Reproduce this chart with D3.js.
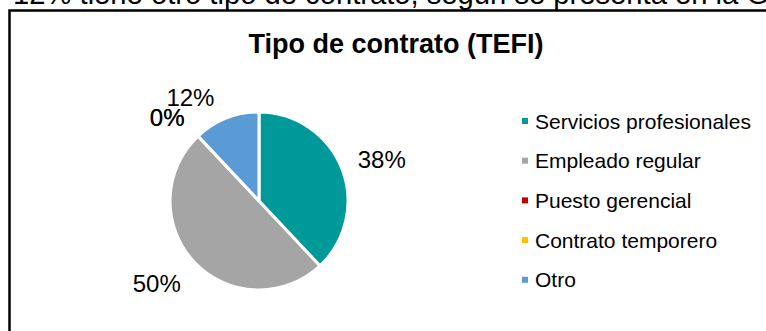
<!DOCTYPE html>
<html>
<head>
<meta charset="utf-8">
<script src="https://cdn.jsdelivr.net/npm/d3@7"></script>
<style>
  html, body { margin: 0; padding: 0; background: #fff; }
  svg { display: block; }
  text { font-family: "Liberation Sans", Arial, sans-serif; }
</style>
</head>
<body>
<svg id="chart" width="766" height="331"></svg>
<script>
// Contract type distribution (TEFI)
const categories = ["Servicios profesionales", "Empleado regular", "Puesto gerencial", "Contrato temporero", "Otro"];
const shares = [38, 50, 0, 0, 12];
const colors = ["#009999", "#A5A5A5", "#C00000", "#FFC000", "#5B9BD5"];
const chartTitle = "Tipo de contrato (TEFI)";
const leadText = "12% tiene otro tipo de contrato, según se presenta en la Gráfica";

const svg = d3.select("#chart");

// paragraph line running above the chart frame
svg.append("text")
  .attr("x", 13).attr("y", 4)
  .attr("font-size", 29.2)
  .attr("fill", "#000")
  .text(leadText);

// chart frame
svg.append("rect")
  .attr("x", 9.5).attr("y", 10.5)
  .attr("width", 900).attr("height", 500)
  .attr("fill", "#fff")
  .attr("stroke", "#000").attr("stroke-width", 2.5);

// title
svg.append("text")
  .attr("x", 396).attr("y", 53)
  .attr("text-anchor", "middle")
  .attr("font-size", 27).attr("font-weight", "bold")
  .text(chartTitle);

// pie
const cx = 259, cy = 201, r = 89;
const color = d3.scaleOrdinal().domain(categories).range(colors);
const pie = d3.pie().sort(null).value(d => d.value);
const data = categories.map((c, i) => ({ name: c, value: shares[i] }));
const arcs = pie(data);
const arc = d3.arc().innerRadius(0).outerRadius(r);

const g = svg.append("g").attr("transform", `translate(${cx},${cy})`);
g.selectAll("path.slice")
  .data(arcs.filter(a => a.data.value > 0))
  .join("path")
  .attr("class", "slice")
  .attr("d", arc)
  .attr("fill", d => color(d.data.name))
  .attr("stroke", "#fff").attr("stroke-width", 3)
  .attr("stroke-linejoin", "round");

// outside-end value labels
const labelFont = 24;
const labelR = 108;
const labelNudge = { "Empleado regular": [-6, 2], "Puesto gerencial": [-6, 0], "Contrato temporero": [-6, 0], "Otro": [-20, 3] };
const labels = g.selectAll("text.val")
  .data(arcs)
  .join("text")
  .attr("class", "val")
  .attr("font-size", labelFont)
  .attr("text-anchor", "middle")
  .attr("dominant-baseline", "central")
  .text(d => d.data.value + "%");
labels.each(function(d) {
  const a = (d.startAngle + d.endAngle) / 2;
  const s = Math.sin(a), c = Math.cos(a);
  const w = this.getComputedTextLength();
  const h = 16;
  const nudge = labelNudge[d.data.name] || [0, 0];
  const x = s * labelR + s * w / 2 + nudge[0];
  const y = -c * labelR - c * h / 2 + nudge[1];
  d3.select(this).attr("x", x).attr("y", y + 1);
});

// legend
const legendX = 522, legendY0 = 121, legendStep = 39.7;
const legend = svg.append("g");
const items = legend.selectAll("g.item")
  .data(categories)
  .join("g")
  .attr("class", "item")
  .attr("transform", (d, i) => `translate(${legendX},${legendY0 + i * legendStep})`);
items.append("rect")
  .attr("x", 0).attr("y", -3)
  .attr("width", 6).attr("height", 6)
  .attr("fill", d => color(d));
items.append("text")
  .attr("x", 13).attr("y", 0)
  .attr("dominant-baseline", "central")
  .attr("font-size", 21)
  .text(d => d);
</script>
</body>
</html>
